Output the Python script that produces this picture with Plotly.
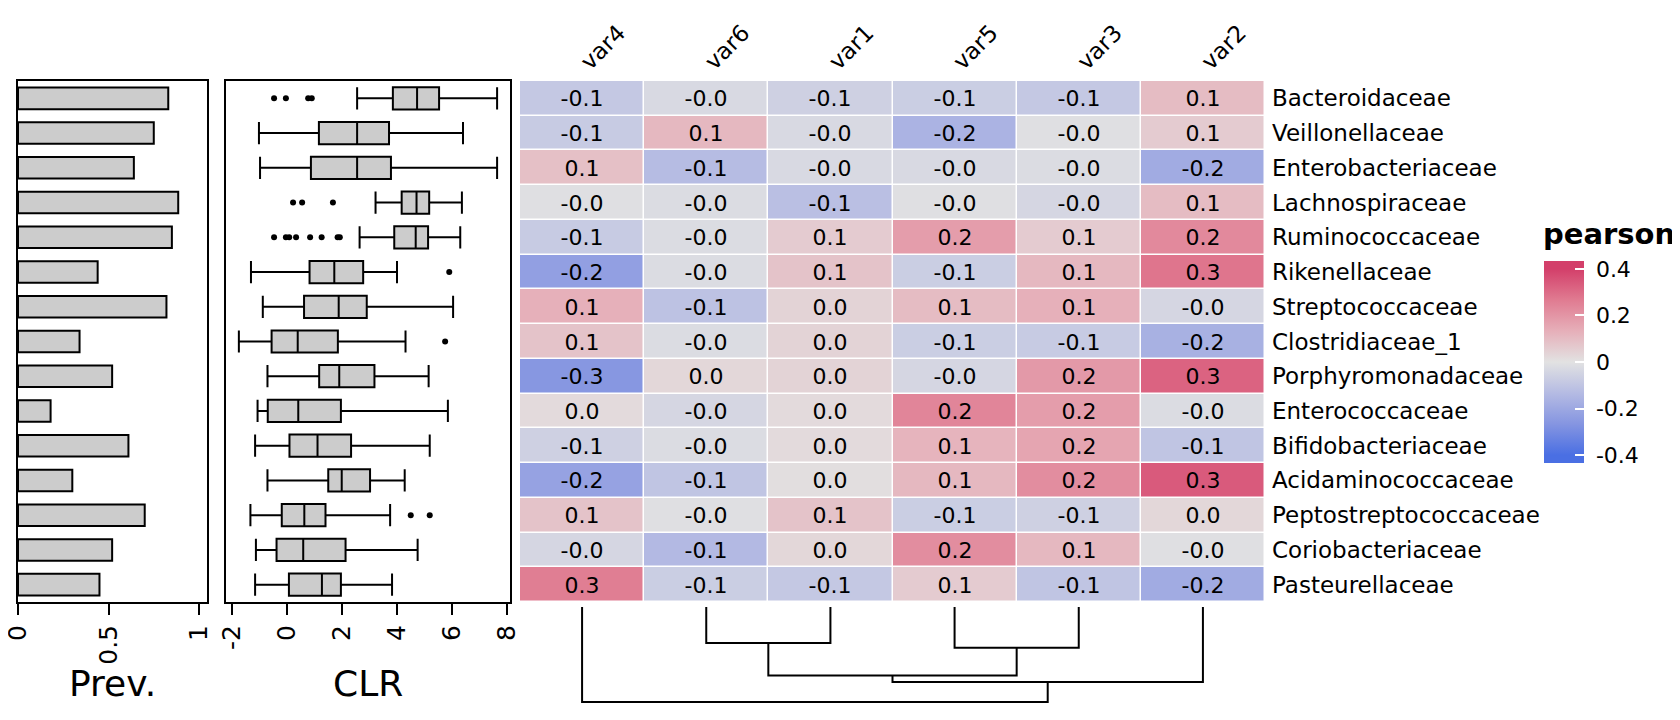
import plotly.graph_objects as go

W, H = 1680, 720
FONT = "DejaVu Sans"
PAGE_OFFSET = 8  # the page body margin shifts the figure by this much

families = [
    "Bacteroidaceae", "Veillonellaceae", "Enterobacteriaceae", "Lachnospiraceae",
    "Ruminococcaceae", "Rikenellaceae", "Streptococcaceae", "Clostridiaceae_1",
    "Porphyromonadaceae", "Enterococcaceae", "Bifidobacteriaceae",
    "Acidaminococcaceae", "Peptostreptococcaceae", "Coriobacteriaceae",
    "Pasteurellaceae",
]
variables = ["var4", "var6", "var1", "var5", "var3", "var2"]

# prevalence (fraction of samples)
prevalence = [0.83, 0.75, 0.64, 0.885, 0.85, 0.44, 0.82, 0.34, 0.52, 0.18,
              0.61, 0.30, 0.70, 0.52, 0.45]
prev_ticks = [0, 0.5, 1]
prev_labels = ["0", "0.5", "1"]

# CLR boxplot statistics
clr_low = [2.55, -1.02, -0.98, 3.22, 2.64, -1.31, -0.88, -1.75, -0.71, -1.07,
           -1.16, -0.71, -1.33, -1.13, -1.16]
clr_q1 = [3.85, 1.16, 0.87, 4.17, 3.90, 0.82, 0.62, -0.56, 1.17, -0.70,
          0.09, 1.50, -0.19, -0.38, 0.07]
clr_med = [4.73, 2.55, 2.55, 4.71, 4.68, 1.72, 1.88, 0.39, 1.90, 0.41,
           1.11, 1.99, 0.63, 0.59, 1.27]
clr_q3 = [5.53, 3.71, 3.78, 5.17, 5.13, 2.77, 2.90, 1.85, 3.18, 1.96,
          2.33, 3.02, 1.40, 2.13, 1.96]
clr_high = [7.64, 6.40, 7.64, 6.36, 6.30, 4.00, 6.04, 4.31, 5.15, 5.85,
            5.19, 4.28, 3.75, 4.75, 3.82]
out_rows = [0, 0, 0, 0, 3, 3, 3, 4, 4, 4, 4, 4, 4, 4, 4, 5, 7, 12, 12]
out_vals = [-0.47, -0.04, 0.77, 0.90, 0.22, 0.55, 1.67,
            -0.47, -0.04, 0.08, 0.33, 0.84, 1.26, 1.84, 1.92,
            5.90, 5.75, 4.50, 5.19]
clr_ticks = [-2, 0, 2, 4, 6, 8]
clr_labels = ["-2", "0", "2", "4", "6", "8"]

# pearson correlations, rows = families, cols = variables
corr = [
    [-0.09, -0.03, -0.06, -0.07, -0.09, 0.10],
    [-0.08, 0.11, -0.03, -0.16, -0.01, 0.06],
    [0.09, -0.13, -0.03, -0.03, -0.02, -0.19],
    [-0.01, -0.02, -0.12, -0.01, -0.04, 0.10],
    [-0.08, -0.02, 0.06, 0.18, 0.06, 0.23],
    [-0.23, -0.02, 0.08, -0.07, 0.11, 0.28],
    [0.13, -0.11, 0.04, 0.10, 0.13, -0.04],
    [0.08, -0.02, 0.04, -0.07, -0.08, -0.17],
    [-0.26, 0.03, 0.04, -0.04, 0.19, 0.32],
    [0.02, -0.04, 0.02, 0.24, 0.18, -0.02],
    [-0.06, -0.02, 0.02, 0.12, 0.16, -0.10],
    [-0.22, -0.10, 0.01, 0.11, 0.22, 0.34],
    [0.08, -0.01, 0.08, -0.07, -0.06, 0.03],
    [-0.04, -0.14, 0.03, 0.22, 0.11, -0.01],
    [0.26, -0.07, -0.09, 0.06, -0.10, -0.19],
]
legend_ticks = [-0.4, -0.2, 0, 0.2, 0.4]
legend_labels = ["-0.4", "-0.2", "0", "0.2", "0.4"]

# column dendrogram: (left, right, height); ints refer to earlier merges
dendro_merges = [
    ("var6", "var1", 0.38),
    ("var5", "var3", 0.43),
    (0, 1, 0.72),
    (2, "var2", 0.79),
    ("var4", 3, 1.00),
]

palette = ["#4A6FE3", "#8595E1", "#B5BBE3", "#E2E2E2", "#E6AFB9", "#E07B91", "#D33F6A"]
LIM = 0.4
ZLIM = 0.434


def fx(p):
    return (p - PAGE_OFFSET) / W


def fy(p):
    return 1 - (p - PAGE_OFFSET) / H


rows = list(range(len(families)))
cols = list(range(len(variables)))
yrange = [len(families) - 0.5, -0.5]

# colorscale: palette spans -LIM..LIM, clamp beyond
cscale = [[0, palette[0]]]
for i, c in enumerate(palette):
    v = -LIM + 2 * LIM * i / (len(palette) - 1)
    cscale.append([(v + ZLIM) / (2 * ZLIM), c])
cscale.append([1, palette[-1]])

cell_text = [[f"{v:.1f}" for v in r] for r in corr]

# dendrogram segments
node_x, node_h = {}, {}
for v in variables:
    node_x[v] = variables.index(v)
    node_h[v] = 0.0
dx, dy = [], []
for i, (a, b, h) in enumerate(dendro_merges):
    xa, ha = node_x[a], node_h[a]
    xb, hb = node_x[b], node_h[b]
    dx += [xa, xa, xb, xb, None]
    dy += [ha, h, h, hb, None]
    node_x[i] = (xa + xb) / 2
    node_h[i] = h

fig = go.Figure()

fig.add_trace(go.Bar(
    x=prevalence, y=rows, orientation="h", width=0.62,
    marker=dict(color="#CCCCCC", line=dict(color="black", width=2)),
    xaxis="x", yaxis="y", hoverinfo="skip",
))

fig.add_trace(go.Box(
    y=rows, q1=clr_q1, median=clr_med, q3=clr_q3,
    lowerfence=clr_low, upperfence=clr_high,
    orientation="h", width=0.64, whiskerwidth=1, boxpoints=False,
    fillcolor="#CCCCCC", line=dict(color="black", width=2),
    xaxis="x2", yaxis="y2", hoverinfo="skip",
))
fig.add_trace(go.Scatter(
    x=out_vals, y=out_rows, mode="markers",
    marker=dict(color="black", size=6),
    xaxis="x2", yaxis="y2", hoverinfo="skip",
))

fig.add_trace(go.Heatmap(
    z=corr, x=cols, y=rows, text=cell_text, texttemplate="%{text}",
    textfont=dict(family=FONT, size=22, color="black"),
    colorscale=cscale, zmin=-ZLIM, zmax=ZLIM, xgap=1.5, ygap=1.5,
    xaxis="x3", yaxis="y3", hoverinfo="skip",
    colorbar=dict(
        thickness=40, thicknessmode="pixels", len=202, lenmode="pixels",
        x=fx(1544), xanchor="left", xpad=0, y=fy(362), yanchor="middle", ypad=0,
        outlinewidth=0, tickvals=legend_ticks,
        ticktext=[" " + t for t in legend_labels],
        ticks="inside", ticklen=9, tickwidth=2, tickcolor="white",
        tickfont=dict(family=FONT, size=22, color="black"),
    ),
))

fig.add_trace(go.Scatter(
    x=dx, y=dy, mode="lines", line=dict(color="black", width=2),
    xaxis="x4", yaxis="y4", hoverinfo="skip",
))

box_axis = dict(showline=True, mirror=True, linecolor="black", linewidth=2,
                showgrid=False, zeroline=False)
tick_style = dict(ticks="outside", ticklen=11, tickwidth=2, tickcolor="black",
                  tickangle=-90, ticklabeloverflow="allow",
                  tickfont=dict(family=FONT, size=25, color="black"))
row_axis = dict(range=yrange, domain=[fy(602), fy(81)], showticklabels=False,
                ticks="")

leaf_px, root_px, pad = 607, 702, 0.02
px_per = root_px - leaf_px

fig.update_layout(
    width=W, height=H,
    margin=dict(l=0, r=0, t=0, b=0, pad=0, autoexpand=False),
    paper_bgcolor="white", plot_bgcolor="white", showlegend=False,
    font=dict(family=FONT, color="black"),
    xaxis=dict(domain=[fx(18), fx(207)], range=[0, 1.044], anchor="y",
               tickvals=prev_ticks, ticktext=prev_labels, **box_axis, **tick_style),
    yaxis=dict(anchor="x", **row_axis, **box_axis),
    xaxis2=dict(domain=[fx(226), fx(510)], range=[-2.218, 8.109], anchor="y2",
                tickvals=clr_ticks, ticktext=clr_labels, **box_axis, **tick_style),
    yaxis2=dict(anchor="x2", **row_axis, **box_axis),
    xaxis3=dict(domain=[fx(520), fx(1265)], range=[-0.5, 5.5], anchor="y3",
                side="top", tickvals=cols, ticktext=variables, tickangle=-45,
                ticks="", ticklabelstandoff=1, showgrid=False, zeroline=False,
                tickfont=dict(family=FONT, size=23, color="black")),
    yaxis3=dict(domain=[fy(602), fy(81)], range=yrange, anchor="x3", side="right",
                tickvals=rows, ticktext=families, ticks="", ticklabelstandoff=6,
                showgrid=False, zeroline=False,
                tickfont=dict(family=FONT, size=23, color="black")),
    xaxis4=dict(domain=[fx(520), fx(1265)], range=[-0.5, 5.5], anchor="y4",
                visible=False),
    yaxis4=dict(domain=[fy(root_px + pad * px_per), fy(leaf_px - pad * px_per)],
                range=[1 + pad, -pad], anchor="x4", visible=False),
)

# white tick dashes on the left edge of the colour bar
for v in legend_ticks:
    yp = fy(362 - v / ZLIM * 101)
    fig.add_shape(type="line", xref="paper", yref="paper",
                  x0=fx(1544), x1=fx(1553), y0=yp, y1=yp,
                  line=dict(color="white", width=2))

fig.add_annotation(text="<b>pearson</b>", xref="paper", yref="paper",
                   x=fx(1542), y=fy(234), xanchor="left", yanchor="middle",
                   borderpad=0, showarrow=False,
                   font=dict(family=FONT, size=29, color="black"))
for ax, label in [("x", "Prev."), ("x2", "CLR")]:
    fig.add_annotation(text=label, xref=f"{ax} domain", yref="paper",
                       x=0.5, y=fy(683), xanchor="center", yanchor="middle",
                       showarrow=False, font=dict(family=FONT, size=36, color="black"))

fig.write_html("out.html")
